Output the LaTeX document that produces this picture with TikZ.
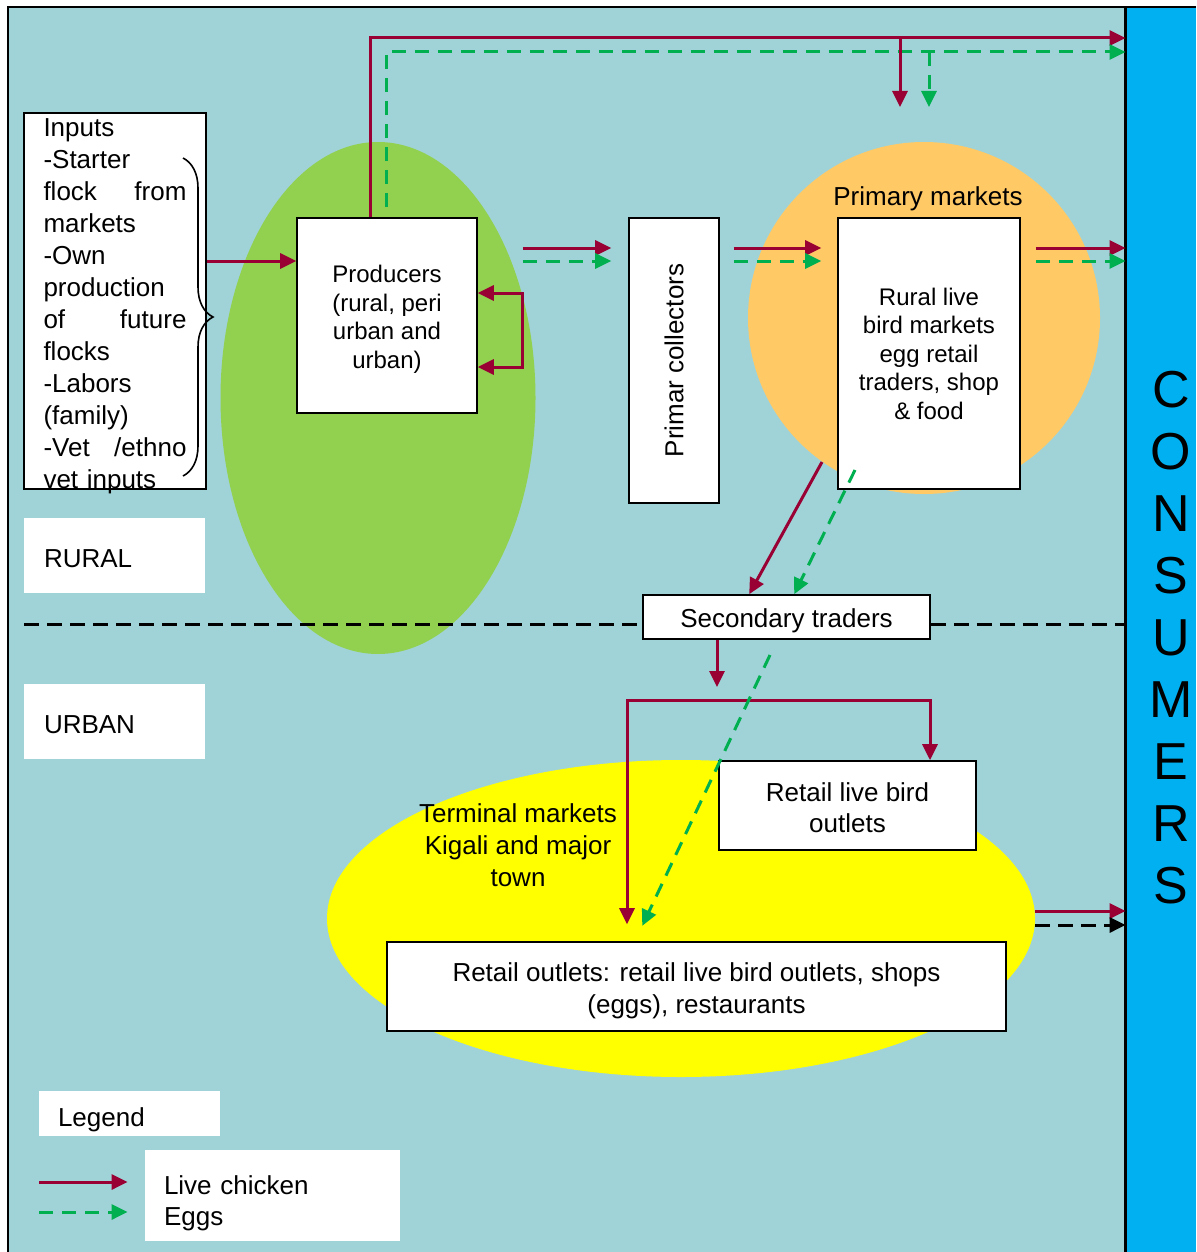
\documentclass[tikz,border=0pt]{standalone}
\usepackage{fontspec}
\setmainfont{Liberation Sans}
\usepackage{tikz}
\usetikzlibrary{arrows.meta,shapes.geometric,decorations.pathreplacing}
\definecolor{bg-teal}{RGB}{160,211,215}
\definecolor{leaf-green}{RGB}{146,208,80}
\definecolor{market-orange}{RGB}{255,201,102}
\definecolor{town-yellow}{RGB}{255,255,0}
\definecolor{chick-red}{RGB}{153,0,51}
\definecolor{egg-green}{RGB}{0,176,80}
\definecolor{cons-blue}{RGB}{0,176,240}
\newcommand*\fsmall{\fontsize{12}{14.25}\selectfont}
\newcommand*\fwide{\fontsize{13}{16}\selectfont}
\newcommand*\padtop[1]{\rule{0pt}{#1}}

\begin{document}
\begin{tikzpicture}[x=0.5pt,y=-0.5pt,>={Triangle[length=8pt,width=7.5pt]},font=\fontsize{13}{15.75}\selectfont,
				box/.style={draw,fill=white,line width=0.8pt,inner sep=0pt,align=center},
				tag/.style={fill=white,inner sep=0pt,inner xsep=10pt,text width=70.5pt,minimum height=37.5pt,align=left},
				blob/.style={ellipse,inner sep=0pt,draw=none},
				chick/.style={->,draw=chick-red,line width=1.5pt},
				egg/.style={->,draw=egg-green,line width=1.5pt,dash pattern=on 7pt off 4.5pt},
				divide/.style={draw=black,line width=1.5pt,dash pattern=on 7.5pt off 4pt}]
				\useasboundingbox (0,0) rectangle (1196,1252);
				\fill[bg-teal] (8,8) rectangle (1126,1252);
				\node[blob,fill=leaf-green,minimum width=157.5pt,minimum height=256pt] (farm) at (378,398) {};
				\node[blob,fill=market-orange,minimum width=176pt,minimum height=176pt] (primary) at (924,318) {};
				\node[blob,fill=town-yellow,minimum width=354pt,minimum height=158.5pt] (terminal) at (681,918.5) {};
				\node[fill=cons-blue,inner sep=0pt,minimum width=35pt,minimum height=622pt] (consumers) at (1161,630) {};
				\draw[line width=1.2pt] (consumers.south west) -- (consumers.north west);
				\draw[line width=1.2pt] (8,1252) |- (1196,7);
				\node[font=\fontsize{26}{31}\selectfont,align=center] (cword) at (1171,637.5) {C\\O\\N\\S\\U\\M\\E\\R\\S};

				\node[box,minimum height=188pt,text width=71.5pt,inner xsep=9.75pt,align=left,font=\fwide] (inputs) at (115,301)
					{\padtop{11.3pt}Inputs\\-Starter\\flock\hfill from\\markets\\-Own\\production\\of\hfill future\\flocks\\-Labors\\(family)\\-Vet\hfill /ethno\\\smash{vet inputs}};
				\node[box,minimum width=90pt,minimum height=97.5pt,font=\fsmall] (producers) at (387,315.5) {\padtop{12.6pt}Producers\\(rural, peri\\urban and\\urban)};
				\node[box,minimum width=45pt,minimum height=142.5pt] (primar) at (674,360.5) {\rotatebox{90}{Primar collectors}};
				\node (pmlabel) at (928,199) {Primary markets};
				\node[box,minimum width=91pt,minimum height=135.5pt,font=\fsmall] (rural) at (929,353.5) {Rural live\\bird markets\\egg retail\\traders, shop\\\& food};
				\node[box,minimum width=143.5pt,minimum height=22pt] (secondary) at (786.5,617) {\padtop{12.8pt}Secondary traders};
				\node[tag] (rtag) at (114.5,555.5) {\padtop{12.3pt}RURAL};
				\node[tag] (utag) at (114.5,721.5) {\padtop{12.3pt}URBAN};
				\node[align=center,font=\fwide] (tlabel) at (518,845) {Terminal markets\\Kigali and major\\town};
				\node[box,minimum width=128.5pt,minimum height=44.5pt,font=\fontsize{13}{15.5}\selectfont] (livebird) at (847.5,805.5) {\padtop{11.3pt}Retail live bird\\outlets};
				\node[box,minimum width=309.5pt,minimum height=44.5pt,font=\fwide] (outlets) at (696.5,986.5) {\padtop{13.3pt}Retail outlets: retail live bird outlets, shops\\(eggs), restaurants};
				\node[tag,text width=71.5pt,inner xsep=9.5pt,minimum height=22.5pt] (legend) at (129.5,1113.5) {\padtop{15.3pt}Legend};
				\node[tag,text width=108.5pt,inner xsep=9.5pt,minimum height=45.5pt,font=\fontsize{13}{15.5}\selectfont] (keys) at (272.5,1195.5) {\padtop{17.3pt}Live chicken\\Eggs};

				\draw[decorate,decoration={brace,amplitude=15pt,aspect=0.5},line width=0.8pt] (183,158) -- (183,476);

				\coordinate (ytop) at (0,38);
				\coordinate (yegg) at (0,52);
				\coordinate (dropc) at (900,107);
				\coordinate (drope) at (929,107);
				\coordinate (yin) at (0,261);
				\coordinate (ylink) at (0,248);
				\coordinate (ylinke) at (0,261);
				\coordinate (ydiv) at (24,624);
				\coordinate (sfrom) at (822,462);
				\coordinate (efrom) at (855,470);
				\coordinate (split) at (717,687);
				\coordinate (brk) at (627,700);
				\coordinate (efree) at (770,655);
				\coordinate (yout) at (0,911);
				\coordinate (youte) at (0,925);
				\coordinate (legc) at (39,1182);
				\coordinate (lege) at (39,1212);

				\draw[divide] (ydiv) -- (secondary.west |- ydiv);
				\draw[divide] (secondary.east |- ydiv) -- (consumers.west |- ydiv);

				\draw[chick] (inputs.east |- yin) -- (producers.west |- yin);
				\draw[chick,<->] ([yshift=11.25pt]producers.east) -- ++(45,0) |- ([yshift=-25.75pt]producers.east);
				\draw[chick] ([xshift=-8.5pt]producers.north) |- (consumers.west |- ytop);
				\draw[egg] ([xshift=-0.5pt,yshift=5pt]producers.north) |- (consumers.west |- yegg);
				\draw[chick] (dropc |- ytop) -- (dropc);
				\draw[egg] (drope |- yegg) -- (drope);
				\draw[chick,shorten <=22.5pt,shorten >=8.5pt] (producers.east |- ylink) -- (primar.west |- ylink);
				\draw[egg,shorten <=22.5pt,shorten >=8.5pt] (producers.east |- ylinke) -- (primar.west |- ylinke);
				\draw[chick,shorten <=7pt,shorten >=8pt] (primar.east |- ylink) -- (rural.west |- ylink);
				\draw[egg,shorten <=7pt,shorten >=8pt] (primar.east |- ylinke) -- (rural.west |- ylinke);
				\draw[chick,shorten <=7.5pt] (rural.east |- ylink) -- (consumers.west |- ylink);
				\draw[egg,shorten <=7.5pt] (rural.east |- ylinke) -- (consumers.west |- ylinke);
				\draw[chick] (sfrom) -- ([xshift=53.5pt]secondary.north west);
				\draw[egg] (efrom) -- ([xshift=76pt]secondary.north west);
				\draw[chick] (secondary.south -| split) -- (split);
				\draw[chick,<->,shorten <=8.5pt] (brk |- outlets.north) -- (brk) -| ([xshift=41.25pt]livebird.north);
				\draw[egg,shorten >=8.5pt] (efree) -- ([xshift=124.4pt]outlets.north west);
				\draw[chick] (terminal.east |- yout) -- (consumers.west |- yout);
				\draw[divide,->] (terminal.east |- youte) -- (consumers.west |- youte);
				\draw[chick,shorten >=8.5pt] (legc) -- (keys.west |- legc);
				\draw[egg,shorten >=8.5pt] (lege) -- (keys.west |- lege);
				\end{tikzpicture}
\end{document}
